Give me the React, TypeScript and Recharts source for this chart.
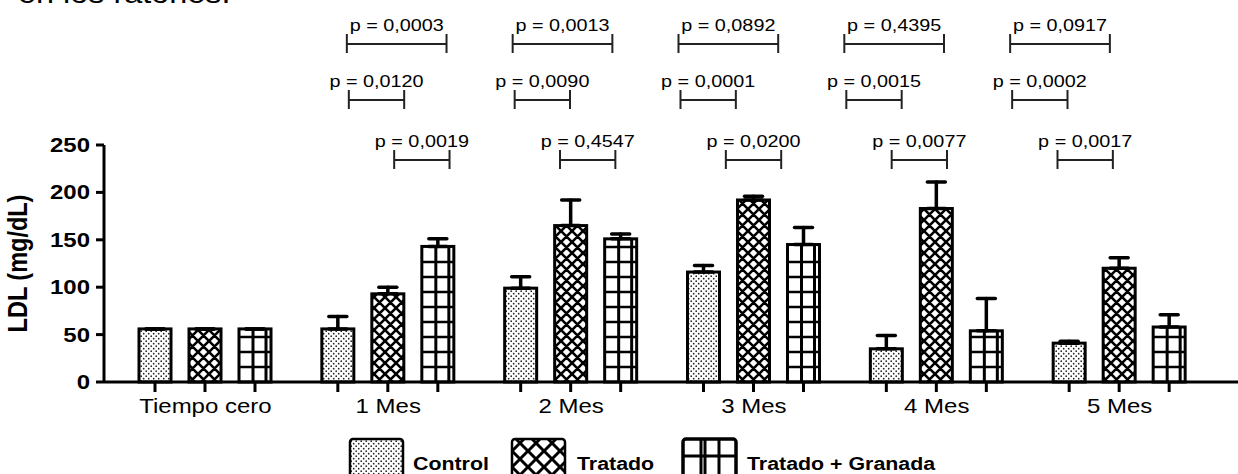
import React from 'react';
import { BarChart, Bar, XAxis, YAxis, ErrorBar, Legend, Label } from 'recharts';

// ---------- data ----------
const categories = ['Tiempo cero', '1 Mes', '2 Mes', '3 Mes', '4 Mes', '5 Mes'];
const controlValues = [56, 56, 99, 116, 35, 41];
const controlErrors = [0, 13, 12, 7, 14, 2];
const tratadoValues = [56, 93, 165, 192, 183, 120];
const tratadoErrors = [0, 7, 27, 4, 28, 11];
const granadaValues = [56, 143, 151, 145, 54, 58];
const granadaErrors = [0, 8, 5, 18, 34, 13];
const yTicks = [0, 50, 100, 150, 200, 250];
const seriesNames = ['Control', 'Tratado', 'Tratado + Granada'];
// p-values for months 1..5
const pControlVsGranada = ['0,0003', '0,0013', '0,0892', '0,4395', '0,0917'];
const pControlVsTratado = ['0,0120', '0,0090', '0,0001', '0,0015', '0,0002'];
const pTratadoVsGranada = ['0,0019', '0,4547', '0,0200', '0,0077', '0,0017'];
const yAxisTitle = 'LDL (mg/dL)';
const headerText = 'en los ratones.';

const data = categories.map((name, i) => ({
  name,
  control: controlValues[i],
  controlErr: [0, controlErrors[i]],
  tratado: tratadoValues[i],
  tratadoErr: [0, tratadoErrors[i]],
  granada: granadaValues[i],
  granadaErr: [0, granadaErrors[i]],
  pCG: i > 0 ? pControlVsGranada[i - 1] : null,
  pCT: i > 0 ? pControlVsTratado[i - 1] : null,
  pTG: i > 0 ? pTratadoVsGranada[i - 1] : null,
}));

// ---------- layout / style ----------
const W = 1238;
const H = 474;
const MARGIN = { top: 145, right: 0, bottom: 52, left: 44 };
const Y_AXIS_W = 60;
const X_AXIS_H = 40;
const PAD = { left: 10, right: 27 };
const BAR_SIZE = 32;
const BAR_GAP = 18;
const STEP = BAR_SIZE + BAR_GAP;
const BAND = (W - MARGIN.left - Y_AXIS_W - MARGIN.right - PAD.left - PAD.right) / categories.length;
const SX = 1.2;
const FONT = "'Liberation Sans', Arial, Helvetica, sans-serif";
const ANNOT_SCALE = 0.907;
const ANNOT_OFF_L = 11;
const ANNOT_OFF_R = 21;
const ROW_Y = [44, 100, 160];

function SText({ x, y, size, weight = 'normal', anchor = 'start', children }: any) {
  return (
    <text
      transform={`translate(${x},${y}) scale(${SX},1)`}
      x={0}
      y={0}
      textAnchor={anchor}
      fontSize={size}
      fontWeight={weight}
      fontFamily={FONT}
      fill="#000"
    >
      {children}
    </text>
  );
}

function crossPath(s: number) {
  const a = -1, b = s + 1;
  return `M${a},${a} L${b},${b} M${s - 1},-1 L${s + 1},1 M-1,${s - 1} L1,${s + 1} M${b},${a} L${a},${b} M-1,1 L1,-1 M${s - 1},${s + 1} L${s + 1},${s - 1}`;
}

function Defs() {
  return (
    <svg width={0} height={0} style={{ position: 'absolute', left: 0, top: 0 }}>
      <defs>
        <pattern id="pt-dots" width={5} height={5} patternUnits="userSpaceOnUse">
          <rect width={5} height={5} fill="#fff" />
          <circle cx={1.2} cy={1.2} r={0.85} fill="#222" />
          <circle cx={3.7} cy={3.7} r={0.85} fill="#222" />
        </pattern>
        <pattern id="pt-cross" width={11} height={11} patternUnits="userSpaceOnUse">
          <rect width={11} height={11} fill="#fff" />
          <path d={crossPath(11)} stroke="#000" strokeWidth={2.6} fill="none" />
        </pattern>
        <pattern id="pt-cross-l" width={16} height={16} patternUnits="userSpaceOnUse">
          <rect width={16} height={16} fill="#fff" />
          <path d={crossPath(16)} stroke="#000" strokeWidth={3} fill="none" />
        </pattern>
      </defs>
    </svg>
  );
}

function GridLines({ x, y, width, height }: any) {
  const out: any[] = [];
  const bottom = y + height;
  for (let yy = bottom - 15; yy > y + 4; yy -= 15) {
    out.push(<line key={'h' + yy} x1={x} x2={x + width} y1={yy} y2={yy} stroke="#000" strokeWidth={2.5} />);
  }
  [14, 27].forEach((dx) =>
    out.push(<line key={'v' + dx} x1={x + dx} x2={x + dx} y1={y} y2={bottom} stroke="#000" strokeWidth={3} />)
  );
  return <g>{out}</g>;
}

function Brackets({ cC, cT, cTG, index, payload }: any) {
  const anchor = cC - (index - 1) * BAND;
  const xo = (c: number) => anchor + ANNOT_SCALE * (c - anchor);
  const rows = [
    { a: cC, b: cTG, p: payload.pCG, ly: ROW_Y[0] },
    { a: cC, b: cT, p: payload.pCT, ly: ROW_Y[1] },
    { a: cT, b: cTG, p: payload.pTG, ly: ROW_Y[2] },
  ];
  return (
    <g>
      {rows.map((r, k) => {
        const l = xo(r.a) + ANNOT_OFF_L - (k === 0 ? 2 : 0);
        const rr = xo(r.b) + ANNOT_OFF_R - (k === 0 ? 3 : 0);
        return (
          <g key={k}>
            <line x1={l} x2={rr} y1={r.ly} y2={r.ly} stroke="#222" strokeWidth={2} />
            <line x1={l} x2={l} y1={r.ly - 10} y2={r.ly + 9} stroke="#222" strokeWidth={2} />
            <line x1={rr} x2={rr} y1={r.ly - 10} y2={r.ly + 9} stroke="#222" strokeWidth={2} />
            <SText x={(l + rr) / 2} y={r.ly - 13} size={16.5} anchor="middle">{`p = ${r.p}`}</SText>
          </g>
        );
      })}
    </g>
  );
}

const makeShape = (series: number) => (props: any) => {
  const { x, y, width, height, index, payload } = props;
  const bottom = y + height;
  const cx = x + width / 2;
  const fill = series === 0 ? 'url(#pt-dots)' : series === 1 ? 'url(#pt-cross)' : '#fff';
  return (
    <g>
      <rect x={x} y={y} width={width} height={height} fill={fill} stroke="none" />
      {series === 2 && <GridLines x={x} y={y} width={width} height={height} />}
      <rect x={x} y={y} width={width} height={height} fill="none" stroke="#000" strokeWidth={3} />
      <line x1={cx} x2={cx} y1={bottom} y2={bottom + 10} stroke="#000" strokeWidth={3} />
      {series === 2 && index > 0 && (
        <Brackets cC={cx - 2 * STEP} cT={cx - STEP} cTG={cx} index={index} payload={payload} />
      )}
    </g>
  );
};

const XTick = (p: any) => (
  <SText x={p.x} y={p.y + 31} size={20} anchor="middle">
    {p.payload.value}
  </SText>
);

const YTick = (p: any) => (
  <SText x={p.x} y={p.y + 7} size={20} weight="bold" anchor="end">
    {p.payload.value}
  </SText>
);

const YTitle = () => (
  <text
    transform={`translate(27,${(MARGIN.top + (H - MARGIN.bottom - X_AXIS_H)) / 2}) rotate(-90) scale(1,${SX})`}
    textAnchor="middle"
    fontSize={23.5}
    fontWeight="bold"
    fontFamily={FONT}
    fill="#000"
  >
    {yAxisTitle}
  </text>
);

function LegendContent() {
  const items = [
    { sx: 350, tx: 413, kind: 0 },
    { sx: 512, tx: 577, kind: 1 },
    { sx: 683, tx: 747, kind: 2 },
  ];
  const sw = 53;
  const sh = 40;
  return (
    <svg width={W} height={39} style={{ display: 'block', overflow: 'hidden' }}>
      {items.map((it, i) => (
        <g key={i}>
          <rect
            x={it.sx}
            y={4}
            width={sw}
            height={sh}
            rx={3}
            fill={it.kind === 0 ? 'url(#pt-dots)' : it.kind === 1 ? 'url(#pt-cross-l)' : '#fff'}
          />
          {it.kind === 2 && (
            <g stroke="#000" strokeWidth={3}>
              <line x1={it.sx + 18} x2={it.sx + 18} y1={4} y2={44} />
              <line x1={it.sx + 22} x2={it.sx + 22} y1={4} y2={44} />
              <line x1={it.sx + 36} x2={it.sx + 36} y1={4} y2={44} />
              <line x1={it.sx} x2={it.sx + sw} y1={21} y2={21} />
            </g>
          )}
          <rect x={it.sx} y={4} width={sw} height={sh} rx={3} fill="none" stroke="#000" strokeWidth={it.kind === 2 ? 3.5 : 2.5} />
          <SText x={it.tx} y={34.5} size={17.8} weight="bold">
            {seriesNames[i]}
          </SText>
        </g>
      ))}
    </svg>
  );
}

export default function App() {
  return (
    <div style={{ position: 'absolute', left: 0, top: 0, width: W, height: H, background: '#fff', overflow: 'hidden' }}>
      <Defs />
      <svg width={W} height={20} style={{ position: 'absolute', left: 0, top: 0 }}>
        <SText x={18} y={3} size={27}>{headerText}</SText>
      </svg>
      <BarChart width={W} height={H} data={data} margin={MARGIN} barGap={BAR_GAP}>
        <XAxis
          dataKey="name"
          type="category"
          height={X_AXIS_H}
          padding={PAD}
          axisLine={{ stroke: '#000', strokeWidth: 3 }}
          tickLine={false}
          tickSize={0}
          tickMargin={0}
          interval={0}
          tick={XTick}
        />
        <YAxis
          type="number"
          domain={[0, 250]}
          ticks={yTicks}
          width={Y_AXIS_W}
          axisLine={{ stroke: '#000', strokeWidth: 3 }}
          tickLine={{ stroke: '#000', strokeWidth: 3 }}
          tickSize={8}
          tickMargin={6}
          tick={YTick}
        >
          <Label content={YTitle} />
        </YAxis>
        <Legend
          layout="vertical"
          align="center"
          verticalAlign="middle"
          content={() => <LegendContent />}
          wrapperStyle={{ left: 0, top: 435, width: W, height: 39 }}
        />
        <Bar dataKey="control" name={seriesNames[0]} barSize={BAR_SIZE} isAnimationActive={false} shape={makeShape(0)}>
          <ErrorBar dataKey="controlErr" width={9} stroke="#000" strokeWidth={3.5} strokeLinecap="round" direction="y" />
        </Bar>
        <Bar dataKey="tratado" name={seriesNames[1]} barSize={BAR_SIZE} isAnimationActive={false} shape={makeShape(1)}>
          <ErrorBar dataKey="tratadoErr" width={9} stroke="#000" strokeWidth={3.5} strokeLinecap="round" direction="y" />
        </Bar>
        <Bar dataKey="granada" name={seriesNames[2]} barSize={BAR_SIZE} isAnimationActive={false} shape={makeShape(2)}>
          <ErrorBar dataKey="granadaErr" width={9} stroke="#000" strokeWidth={3.5} strokeLinecap="round" direction="y" />
        </Bar>
      </BarChart>
    </div>
  );
}
